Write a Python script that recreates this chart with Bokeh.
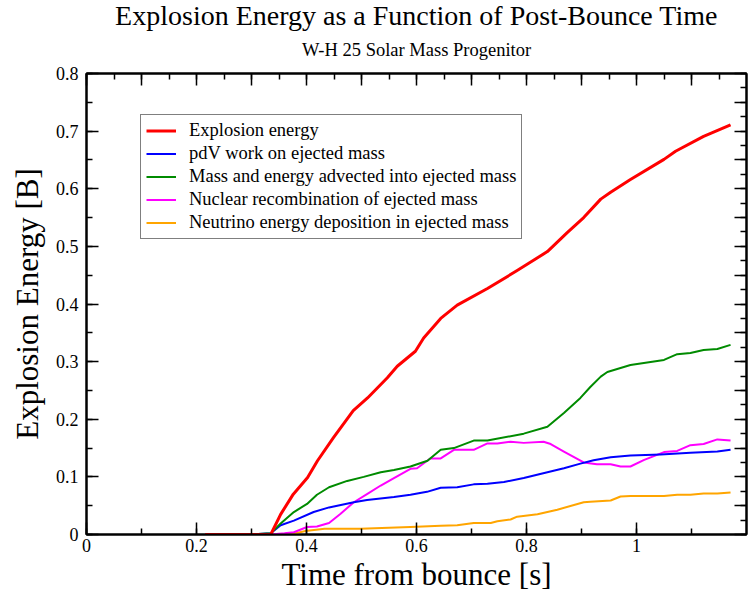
from bokeh.plotting import figure
from bokeh.models import (Range1d, LinearAxis, Title, Legend, LegendItem,
                          SingleIntervalTicker, CustomJSTickFormatter)
from bokeh.embed import file_html
from bokeh.resources import INLINE

# ---- data (time from bounce [s], energy [B]) ----
t_expl = [0.216, 0.30, 0.335, 0.353, 0.376, 0.402, 0.420, 0.449, 0.485, 0.511, 0.547,
          0.565, 0.598, 0.613, 0.644, 0.674, 0.729, 0.783, 0.838, 0.874, 0.904,
          0.935, 0.953, 0.989, 1.050, 1.071, 1.122, 1.171]
e_expl = [0.0, 0.0, 0.0, 0.035, 0.070, 0.099, 0.128, 0.168, 0.215, 0.237, 0.272,
          0.292, 0.318, 0.341, 0.375, 0.398, 0.427, 0.458, 0.491, 0.524, 0.550,
          0.582, 0.594, 0.616, 0.651, 0.665, 0.691, 0.711]

t_pdv = [0.216, 0.30, 0.335, 0.353, 0.377, 0.413, 0.441, 0.486, 0.510, 0.559, 0.589,
         0.619, 0.644, 0.674, 0.704, 0.729, 0.759, 0.795, 0.838, 0.868, 0.898,
         0.922, 0.953, 0.989, 1.044, 1.098, 1.147, 1.171]
e_pdv = [0.0, 0.0, 0.002, 0.016, 0.024, 0.039, 0.047, 0.056, 0.060, 0.065, 0.069,
         0.074, 0.081, 0.082, 0.087, 0.088, 0.091, 0.098, 0.108, 0.115, 0.123,
         0.129, 0.134, 0.137, 0.139, 0.142, 0.144, 0.147]

t_adv = [0.216, 0.30, 0.335, 0.353, 0.377, 0.401, 0.419, 0.441, 0.474, 0.504, 0.535,
         0.559, 0.589, 0.620, 0.644, 0.668, 0.704, 0.729, 0.795, 0.838, 0.868,
         0.898, 0.916, 0.935, 0.947, 0.989, 1.050, 1.074, 1.098, 1.122, 1.147, 1.171]
e_adv = [0.0, 0.0, 0.002, 0.019, 0.039, 0.053, 0.069, 0.082, 0.093, 0.100, 0.108,
         0.112, 0.118, 0.128, 0.147, 0.150, 0.163, 0.163, 0.175, 0.187, 0.211,
         0.237, 0.256, 0.274, 0.282, 0.294, 0.303, 0.313, 0.315, 0.320, 0.322, 0.329]

t_nuc = [0.216, 0.30, 0.335, 0.36, 0.377, 0.401, 0.419, 0.441, 0.462, 0.486, 0.510,
         0.535, 0.559, 0.589, 0.601, 0.625, 0.644, 0.668, 0.704, 0.729, 0.747,
         0.771, 0.795, 0.831, 0.844, 0.868, 0.904, 0.928, 0.953, 0.971, 0.989,
         1.013, 1.050, 1.074, 1.098, 1.122, 1.147, 1.171]
e_nuc = [0.0, 0.0, 0.0, 0.002, 0.004, 0.013, 0.014, 0.020, 0.036, 0.056, 0.070,
         0.085, 0.098, 0.114, 0.115, 0.132, 0.132, 0.147, 0.147, 0.158, 0.158,
         0.161, 0.159, 0.161, 0.157, 0.144, 0.125, 0.122, 0.122, 0.118, 0.118,
         0.129, 0.143, 0.145, 0.155, 0.157, 0.165, 0.163]

t_neu = [0.216, 0.371, 0.398, 0.433, 0.498, 0.589, 0.644, 0.674, 0.704, 0.735, 0.747,
         0.771, 0.783, 0.820, 0.856, 0.904, 0.916, 0.953, 0.971, 0.989, 1.050,
         1.074, 1.098, 1.122, 1.147, 1.171]
e_neu = [0.0, 0.0, 0.006, 0.010, 0.010, 0.013, 0.015, 0.016, 0.020, 0.020, 0.023,
         0.026, 0.031, 0.035, 0.043, 0.056, 0.057, 0.059, 0.066, 0.067, 0.067,
         0.069, 0.069, 0.071, 0.071, 0.073]

series_names = ["Explosion energy",
                "pdV work on ejected mass",
                "Mass and energy advected into ejected mass",
                "Nuclear recombination of ejected mass",
                "Neutrino energy deposition in ejected mass"]
series_colors = ["#ff0000", "#0000ff", "#008b00", "#ff00ff", "#ffa500"]
series_widths = [3, 2, 2, 2, 2]

title_text = "Explosion Energy as a Function of Post-Bounce Time"
subtitle_text = "W-H 25 Solar Mass Progenitor"
x_label = "Time from bounce [s]"
y_label = "Explosion Energy [B]"

SERIF = "Liberation Serif"

p = figure(width=750, height=594, output_backend="svg", toolbar_location=None,
           x_range=Range1d(0, 1.2), y_range=Range1d(0, 0.8),
           x_axis_location=None, y_axis_location=None, title=None,
           min_border_left=86, min_border_right=4, min_border_top=73,
           min_border_bottom=57)
p.grid.visible = False
p.outline_line_color = "black"
p.outline_line_width = 2
p.background_fill_color = "white"
p.border_fill_color = "white"

fmt = CustomJSTickFormatter(code="return String(Number(tick.toFixed(2)));")
blank = CustomJSTickFormatter(code="return '';")


def make_axis(interval, labels, **kw):
    ax = LinearAxis(ticker=SingleIntervalTicker(interval=interval, num_minor_ticks=2),
                    formatter=fmt if labels else blank, **kw)
    ax.major_tick_in = 12
    ax.major_tick_out = 0
    ax.minor_tick_in = 6
    ax.minor_tick_out = 0
    ax.axis_line_width = 2
    ax.major_tick_line_width = 1.5
    ax.minor_tick_line_width = 1.5
    ax.major_tick_line_color = "black"
    ax.minor_tick_line_color = "black"
    ax.axis_line_color = "black"
    if labels:
        ax.major_label_text_font = SERIF
        ax.major_label_text_font_size = "18px"
        ax.major_label_text_color = "black"
        ax.axis_label_text_font = SERIF
        ax.axis_label_text_font_size = "31px"
        ax.axis_label_text_font_style = "normal"
        ax.axis_label_text_color = "black"
    else:
        ax.major_label_standoff = 0
    return ax


xb = make_axis(0.2, True, axis_label=x_label)
xb.major_label_standoff = 4
xb.axis_label_standoff = 2
yl = make_axis(0.1, True, axis_label=y_label)
yl.major_label_standoff = 8
yl.axis_label_standoff = 8
xt = make_axis(0.1, False)
yr = make_axis(0.05, False)
p.add_layout(xb, "below")
p.add_layout(yl, "left")
p.add_layout(xt, "above")
p.add_layout(yr, "right")

p.add_layout(Title(text=subtitle_text, align="center", text_font=SERIF,
                   text_font_size="18.5px", text_font_style="normal",
                   text_color="black", standoff=28), "above")
p.add_layout(Title(text=title_text, align="center", text_font=SERIF,
                   text_font_size="28px", text_font_style="normal",
                   text_color="black", standoff=-14), "above")

data = [(t_expl, e_expl), (t_pdv, e_pdv), (t_adv, e_adv), (t_nuc, e_nuc), (t_neu, e_neu)]
order = [4, 3, 1, 2, 0]
rmap = {}
for i in order:
    t, e = data[i]
    r = p.line(t, e, line_color=series_colors[i], line_width=series_widths[i],
               line_join="round")
    rmap[i] = r

items = [LegendItem(label=series_names[i], renderers=[rmap[i]]) for i in range(5)]
legend = Legend(items=items, location=(54, 295))
legend.label_text_font = SERIF
legend.label_text_font_size = "18.5px"
legend.label_text_color = "black"
legend.glyph_width = 30
legend.glyph_height = 21
legend.label_height = 21
legend.spacing = 2
legend.label_standoff = 13
legend.padding = 5
legend.margin = 0
legend.border_line_color = "black"
legend.border_line_width = 1
legend.background_fill_alpha = 1
p.add_layout(legend, "center")

open("out.html", "w").write(file_html(p, INLINE))
